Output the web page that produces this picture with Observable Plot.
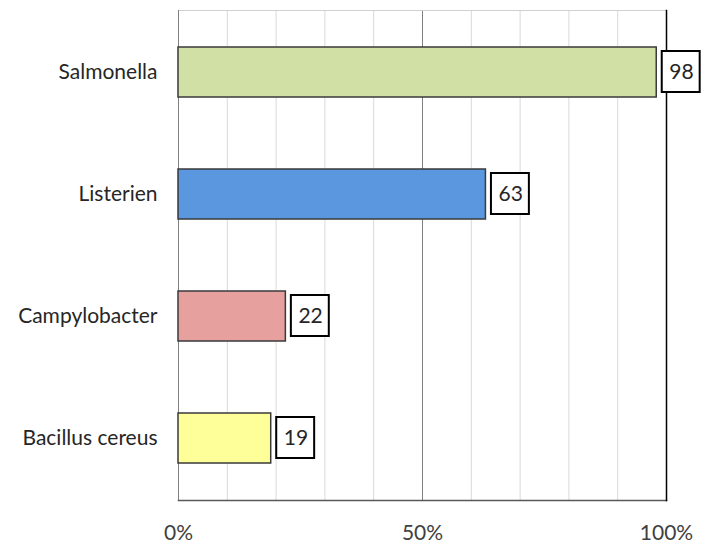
<!DOCTYPE html>
<html>
<head>
<meta charset="utf-8">
<script src="https://cdn.jsdelivr.net/npm/d3@7"></script>
<script src="https://cdn.jsdelivr.net/npm/@observablehq/plot@0.6"></script>
<style>
  html, body { margin: 0; padding: 0; background: #fff; }
  #chart svg { display: block; }
</style>
</head>
<body>
<div id="chart"></div>
<script>
// Pathogens and their share (percent)
const categories = ["Salmonella", "Listerien", "Campylobacter", "Bacillus cereus"];
const values = [98, 63, 22, 19];
const colors = ["#D1E1A5", "#5B97DE", "#E6A19E", "#FFFF99"];
const tickValues = [0, 50, 100];
const gridValues = [10, 20, 30, 40, 60, 70, 80, 90];

const rows = categories.map((name, i) => ({name, value: values[i], color: colors[i]}));

const font = "Lato, 'Open Sans', sans-serif";

const chart = Plot.plot({
  width: 701,
  height: 543,
  marginLeft: 178,
  marginRight: 35,
  marginTop: 10,
  marginBottom: 43,
  style: {fontFamily: font, fontSize: "21px", color: "#333", background: "#fff"},
  x: {domain: [0, 100], label: null},
  y: {domain: categories, paddingInner: 0.59, paddingOuter: 0.295, label: null},
  marks: [
    // light vertical gridlines
    Plot.ruleX(gridValues, {stroke: "#d9d9d9", strokeWidth: 1}),
    // mid gridline
    Plot.ruleX([50], {stroke: "#808080", strokeWidth: 1}),
    // plot frame edges
    Plot.frame({anchor: "top", stroke: "#d0d0d0"}),
    Plot.frame({anchor: "left", stroke: "#808080"}),
    Plot.frame({anchor: "bottom", stroke: "#595959", strokeWidth: 1.5}),
    Plot.frame({anchor: "right", stroke: "#000", strokeWidth: 1.5}),
    // bars
    Plot.barX(rows, {y: "name", x: "value", fill: "color", stroke: "#3a3a3a", strokeWidth: 1.5}),
    // value label boxes
    Plot.rect(rows, {y: "name", x1: "value", x2: d => d.value + 8.9, insetLeft: 5.5, insetTop: 4, insetBottom: 5,
      fill: "#fff", stroke: "#000", strokeWidth: 2}),
    Plot.text(rows, {y: "name", x: d => d.value + 4.45, dx: 3, dy: -0.5, text: d => String(d.value),
      fill: "#262626", fontSize: 21}),
    Plot.axisX({ticks: tickValues, tickFormat: d => d + "%", tickSize: 0, tickPadding: 25, fill: "#404040"}),
    Plot.axisY({tickSize: 0, tickPadding: 21, fill: "#262626"})
  ]
});

document.getElementById("chart").appendChild(chart);
</script>
</body>
</html>
